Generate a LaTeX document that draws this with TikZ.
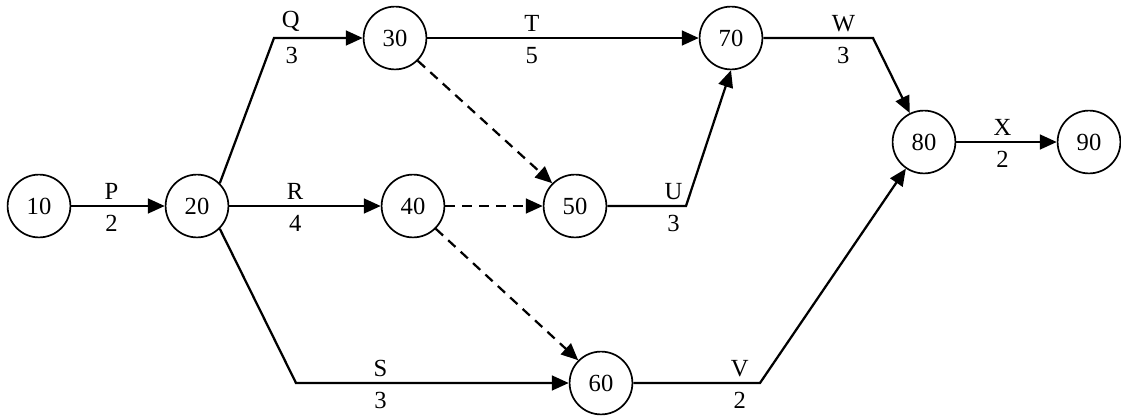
\documentclass[tikz,border=0pt]{standalone}
\usepackage{fontspec}
\setmainfont{Liberation Serif}
\usetikzlibrary{arrows.meta}

\begin{document}
\begin{tikzpicture}[
  x=0.025cm, y=-0.025cm,
  font=\fontsize{17.5}{20}\selectfont,
  event/.style={draw, circle, line width=1.2pt, minimum size=1.57cm, inner sep=0pt},
  act/.style={line width=1.6pt, -{Triangle[length=12pt,width=10.5pt]}},
  dummy/.style={act, dash pattern=on 7pt off 5pt},
  up/.style={above, inner sep=3.5pt},
  down/.style={below, inner sep=6pt},
]
  % Scale: 1 unit = 1px of the 1121 x 416 frame (y runs downwards)
  \useasboundingbox (0,0) rectangle (1121,416);

  % Events
  \node[event] (n10) at (39,206)   {10};
  \node[event] (n20) at (197,206)  {20};
  \node[event] (n30) at (395,38)   {30};
  \node[event] (n40) at (413,206)  {40};
  \node[event] (n50) at (575,206)  {50};
  \node[event] (n60) at (601,383)  {60};
  \node[event] (n70) at (731,38)   {70};
  \node[event] (n80) at (924,142)  {80};
  \node[event] (n90) at (1089,142) {90};

  % Bends
  \coordinate (q) at (274,38);
  \coordinate (s) at (296,383);
  \coordinate (u) at (686,206);
  \coordinate (w) at (873,38);
  \coordinate (v) at (760,383);

  % Activities
  \draw[act] (n10) -- node[up,pos=.43]{P} node[down,pos=.43]{2} (n20);
  \draw[act] (n20.north east) -- (q)
    -- node[up,pos=.19]{Q} node[down,pos=.2]{3} (n30);
  \draw[act] (n20) -- node[up,pos=.435]{R} node[down,pos=.435]{4} (n40);
  \draw[act] (n20.south east) -- (s)
    -- node[up,pos=.31]{S} node[down,pos=.31]{3} (n60);
  \draw[act] (n30) -- node[up,pos=.385]{T} node[down,pos=.385]{5} (n70);
  \draw[act] (n50) -- node[up,pos=.84]{U} node[down,pos=.84]{3} (u)
    -- (n70.south);
  \draw[act] (n70) -- node[up,pos=.73]{W} node[down,pos=.73]{3} (w)
    -- (n80);
  \draw[act] (n60) -- node[up,pos=.84]{V} node[down,pos=.84]{2} (v)
    -- (n80);
  \draw[act] (n80) -- node[up,pos=.46]{X} node[down,pos=.46]{2} (n90);

  % Dummy activities
  \draw[dummy] (n30.south east) -- (n50.north west);
  \draw[dummy] (n40) -- (n50);
  \draw[dummy] (n40.south east) -- (n60.north west);

\end{tikzpicture}
\end{document}
